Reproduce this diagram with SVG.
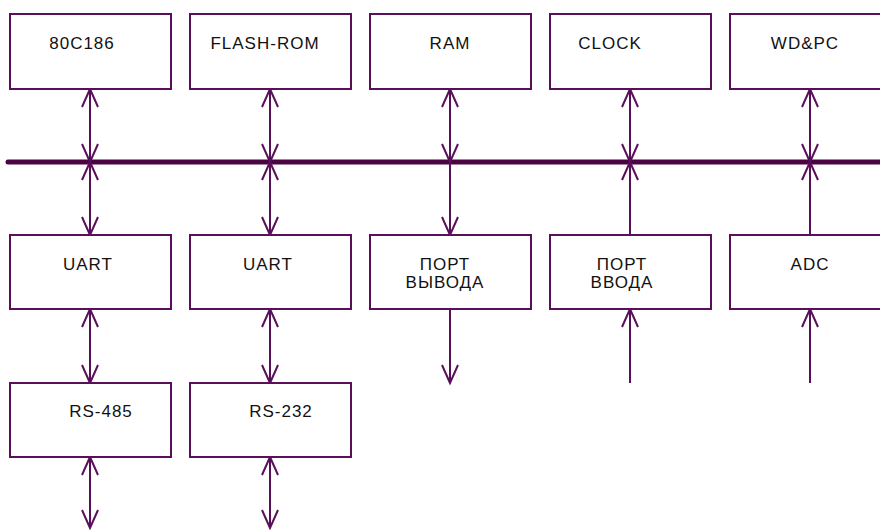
<svg xmlns="http://www.w3.org/2000/svg" width="880" height="530" viewBox="0 0 880 530">
<style>
.box{fill:#fff;stroke:#5a0f5a;stroke-width:2}
.lbl{font-family:"Liberation Sans",Arial,sans-serif;font-size:17px;letter-spacing:1px;fill:#111;text-anchor:middle}
.c{stroke:#5a0f5a;stroke-width:2;fill:none}
.b2{marker-start:url(#ah);marker-end:url(#ah)}
.e{marker-end:url(#ah)}
.s{marker-start:url(#ah)}
</style>
<defs>
<marker id="ah" viewBox="-20 -10 22 20" markerWidth="22" markerHeight="20" refX="0" refY="0" orient="auto-start-reverse" markerUnits="userSpaceOnUse" overflow="visible">
<path d="M-18,-8 L0,0 L-18,8" fill="none" stroke="#5a0f5a" stroke-width="2"/>
</marker>
</defs>
<rect width="880" height="530" fill="#fff"/>
<g id="connectors">
<line x1="8" y1="162" x2="884" y2="162" stroke="#4a0442" stroke-width="5" stroke-linecap="round"/>
<line class="c b2" x1="90" y1="89" x2="90" y2="162"/>
<line class="c b2" x1="90" y1="162" x2="90" y2="235"/>
<line class="c b2" x1="90" y1="309" x2="90" y2="383"/>
<line class="c b2" x1="90" y1="457" x2="90" y2="528"/>
<line class="c b2" x1="270" y1="89" x2="270" y2="162"/>
<line class="c b2" x1="270" y1="162" x2="270" y2="235"/>
<line class="c b2" x1="270" y1="309" x2="270" y2="383"/>
<line class="c b2" x1="270" y1="457" x2="270" y2="528"/>
<line class="c b2" x1="450" y1="89" x2="450" y2="162"/>
<line class="c e" x1="450" y1="162" x2="450" y2="235"/>
<line class="c e" x1="450" y1="309" x2="450" y2="383"/>
<line class="c b2" x1="630" y1="89" x2="630" y2="162"/>
<line class="c s" x1="630" y1="162" x2="630" y2="235"/>
<line class="c e" x1="630" y1="383" x2="630" y2="309"/>
<line class="c b2" x1="810" y1="89" x2="810" y2="162"/>
<line class="c s" x1="810" y1="162" x2="810" y2="235"/>
<line class="c e" x1="810" y1="383" x2="810" y2="309"/>
</g>
<g id="n80c186"><rect class="box" x="10" y="14" width="161" height="75"/><text class="lbl" x="82" y="49">80C186</text></g>
<g id="flashrom"><rect class="box" x="190" y="14" width="161" height="75"/><text class="lbl" x="265" y="49">FLASH-ROM</text></g>
<g id="ram"><rect class="box" x="370" y="14" width="161" height="75"/><text class="lbl" x="450" y="49">RAM</text></g>
<g id="clock"><rect class="box" x="550" y="14" width="161" height="75"/><text class="lbl" x="610" y="49">CLOCK</text></g>
<g id="wdpc"><rect class="box" x="730" y="14" width="161" height="75"/><text class="lbl" x="805" y="49">WD&amp;PC</text></g>
<g id="uart1"><rect class="box" x="10" y="235" width="161" height="74"/><text class="lbl" x="88" y="270">UART</text></g>
<g id="uart2"><rect class="box" x="190" y="235" width="161" height="74"/><text class="lbl" x="268" y="270">UART</text></g>
<g id="portout"><rect class="box" x="370" y="235" width="161" height="74"/><text class="lbl" x="445" y="270">ПОРТ</text><text class="lbl" x="445" y="288">ВЫВОДА</text></g>
<g id="portin"><rect class="box" x="550" y="235" width="161" height="74"/><text class="lbl" x="622" y="270">ПОРТ</text><text class="lbl" x="622" y="288">ВВОДА</text></g>
<g id="adc"><rect class="box" x="730" y="235" width="161" height="74"/><text class="lbl" x="810" y="270">ADC</text></g>
<g id="rs485"><rect class="box" x="10" y="383" width="161" height="74"/><text class="lbl" x="101" y="417">RS-485</text></g>
<g id="rs232"><rect class="box" x="190" y="383" width="161" height="74"/><text class="lbl" x="281" y="417">RS-232</text></g>
</svg>
